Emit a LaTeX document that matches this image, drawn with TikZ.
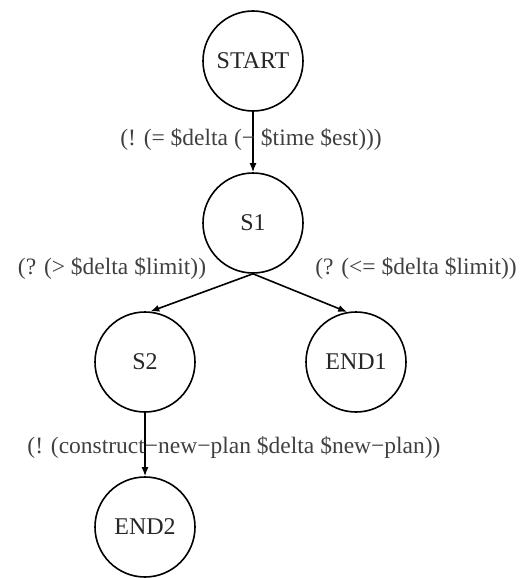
\documentclass[tikz,border=0pt]{standalone}
\usepackage{fontspec}
\setmainfont{Liberation Serif}
\usetikzlibrary{arrows.meta}
\begin{document}
\begin{tikzpicture}[x=1pt,y=-1pt,
  state/.style={circle,draw=black,line width=1.6pt,minimum size=100pt,inner sep=0pt,text=black!85,font=\fontsize{24}{26}\selectfont},
  lbl/.style={text=black!75,inner sep=0pt,font=\fontsize{23.5}{26}\selectfont},
  edge/.style={line width=1.6pt,-{Latex[length=9pt,width=7pt]}}]
\useasboundingbox (0,0) rectangle (531,578);
\node[state] (start) at (253,61) {START};
\node[state] (s1) at (253,223) {S1};
\node[state] (s2) at (145,362) {S2};
\node[state] (end1) at (356,362) {END1};
\node[state] (end2) at (145,527) {END2};
\draw[edge] (start.south) -- (s1.north);
\draw[edge] (s1.south) -- (s2.84);
\draw[edge] (s1.south) -- (end1.100);
\draw[edge] (s2.south) -- (end2.north);
\node[lbl] (l1) at (251,139) {(! (= \$delta (− \$time \$est)))};
\node[lbl] (l2) at (112,268) {(? (> \$delta \$limit))};
\node[lbl] (l3) at (416,268) {(? (<= \$delta \$limit))};
\node[lbl] (l4) at (234,447) {(! (construct−new−plan \$delta \$new−plan))};
\end{tikzpicture}
\end{document}
